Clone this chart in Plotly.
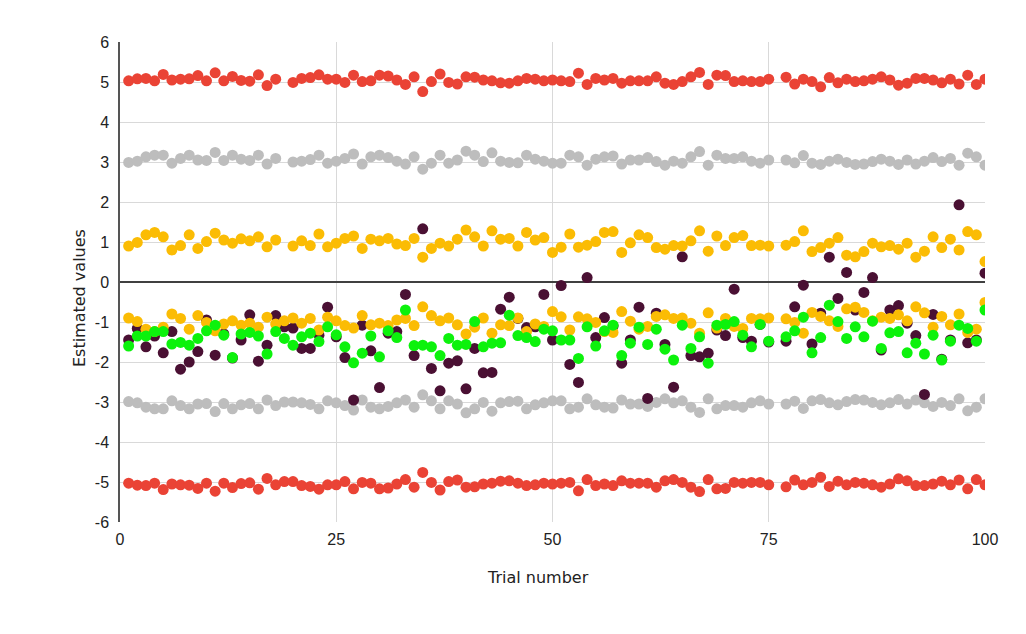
import plotly.graph_objects as go

trials = list(range(1, 101))

red_top = [5.03, 5.08, 5.09, 5.03, 5.19, 5.05, 5.07, 5.08, 5.16, 5.03,
           5.23, 5.03, 5.14, 5.04, 5.02, 5.18, 4.91, 5.07, None, 4.99,
           5.09, 5.11, 5.18, 5.07, 5.07, 4.99, 5.17, 5.01, 5.03, 5.17,
           5.15, 5.05, 4.94, 5.13, 4.76, 5.01, 5.20, 4.99, 4.95, 5.13,
           5.12, 5.05, 5.03, 4.98, 4.97, 5.03, 5.09, 5.07, 5.03, 5.05,
           5.03, 5.01, 5.22, 4.94, 5.09, 5.05, 5.09, 4.97, 5.03, 5.03,
           5.03, 5.13, 4.97, 4.94, 5.01, 5.13, 5.24, 4.94, 5.17, 5.16,
           5.01, 5.03, 5.01, 5.01, 5.07, None, 5.12, 4.95, 5.07, 5.01,
           4.88, 5.11, 4.98, 5.07, 5.01, 5.03, 5.07, 5.13, 5.05, 4.92,
           4.97, 5.09, 5.09, 5.05, 4.98, 5.07, 4.95, 5.17, 4.94, 5.07]

red_bottom = [-5.03, -5.08, -5.09, -5.03, -5.19, -5.05, -5.07, -5.08, -5.16, -5.03,
              -5.23, -5.03, -5.14, -5.04, -5.02, -5.18, -4.91, -5.07, -4.99, -4.99,
              -5.09, -5.11, -5.18, -5.07, -5.07, -4.99, -5.17, -5.01, -5.03, -5.17,
              -5.15, -5.05, -4.94, -5.13, -4.76, -5.01, -5.20, -4.99, -4.95, -5.13,
              -5.12, -5.05, -5.03, -4.98, -4.97, -5.03, -5.09, -5.07, -5.03, -5.05,
              -5.03, -5.01, -5.22, -4.94, -5.09, -5.05, -5.09, -4.97, -5.03, -5.03,
              -5.03, -5.13, -4.97, -4.94, -5.01, -5.13, -5.24, -4.94, -5.17, -5.16,
              -5.01, -5.03, -5.01, -5.01, -5.07, None, -5.12, -4.95, -5.07, -5.01,
              -4.88, -5.11, -4.98, -5.07, -5.01, -5.03, -5.07, -5.13, -5.05, -4.92,
              -4.97, -5.09, -5.09, -5.05, -4.98, -5.07, -4.95, -5.17, -4.94, -5.07]

gray_top = [2.99, 3.02, 3.13, 3.17, 3.17, 2.97, 3.09, 3.17, 3.05, 3.04,
            3.24, 3.04, 3.17, 3.07, 3.04, 3.17, 2.95, 3.09, None, 3.00,
            3.02, 3.06, 3.17, 2.97, 3.02, 3.09, 3.20, 2.95, 3.13, 3.17,
            3.11, 3.02, 2.95, 3.13, 2.82, 2.97, 3.17, 2.97, 3.05, 3.27,
            3.17, 3.01, 3.23, 3.02, 2.99, 2.98, 3.17, 3.07, 3.02, 2.97,
            2.97, 3.17, 3.13, 2.92, 3.07, 3.13, 3.15, 2.95, 3.05, 3.05,
            3.11, 3.01, 2.92, 3.02, 2.97, 3.13, 3.26, 2.92, 3.17, 3.09,
            3.09, 3.13, 3.02, 2.97, 3.05, None, 3.05, 2.98, 3.16, 2.97,
            2.94, 3.02, 3.07, 2.99, 2.94, 2.95, 3.01, 3.07, 3.02, 2.94,
            3.05, 2.95, 3.02, 3.11, 3.01, 3.09, 2.92, 3.22, 3.13, 2.92]

gray_bottom = [-2.99, -3.02, -3.13, -3.17, -3.17, -2.97, -3.09, -3.17, -3.05, -3.04,
               -3.24, -3.04, -3.17, -3.07, -3.04, -3.17, -2.95, -3.09, -3.00, -3.00,
               -3.02, -3.06, -3.17, -2.97, -3.02, -3.09, -3.20, -2.95, -3.13, -3.17,
               -3.11, -3.02, -2.95, -3.13, -2.82, -2.97, -3.17, -2.97, -3.05, -3.27,
               -3.17, -3.01, -3.23, -3.02, -2.99, -2.98, -3.17, -3.07, -3.02, -2.97,
               -2.97, -3.17, -3.13, -2.92, -3.07, -3.13, -3.15, -2.95, -3.05, -3.05,
               -3.11, -3.01, -2.92, -3.02, -2.97, -3.13, -3.26, -2.92, -3.17, -3.09,
               -3.09, -3.13, -3.02, -2.97, -3.05, None, -3.05, -2.98, -3.16, -2.97,
               -2.94, -3.02, -3.07, -2.99, -2.94, -2.95, -3.01, -3.07, -3.02, -2.94,
               -3.05, -2.95, -3.02, -3.11, -3.01, -3.09, -2.92, -3.22, -3.13, -2.92]

orange_top = [0.90, 0.99, 1.18, 1.24, 1.13, 0.80, 0.91, 1.18, 0.84, 1.01,
              1.22, 1.05, 0.97, 1.08, 1.03, 1.13, 0.88, 1.05, None, 0.90,
              1.03, 0.91, 1.20, 0.88, 0.97, 1.09, 1.15, 0.84, 1.07, 1.03,
              1.09, 0.95, 0.91, 1.09, 0.62, 0.84, 0.97, 0.90, 1.07, 1.30,
              1.13, 0.90, 1.28, 1.07, 1.09, 0.90, 1.24, 1.05, 1.11, 0.74,
              0.87, 1.20, 0.87, 0.92, 1.01, 1.24, 1.26, 0.74, 0.98, 1.18,
              1.11, 0.86, 0.82, 0.91, 0.90, 1.03, 1.28, 0.77, 1.15, 0.91,
              1.11, 1.16, 0.91, 0.92, 0.90, None, 0.92, 1.01, 1.28, 0.76,
              0.86, 0.97, 1.11, 0.67, 0.63, 0.76, 0.97, 0.88, 0.91, 0.82,
              0.97, 0.62, 0.77, 1.13, 0.86, 1.07, 0.80, 1.26, 1.18, 0.51]

orange_bottom = [-0.90, -0.99, -1.18, -1.24, -1.13, -0.80, -0.91, -1.18, -0.84, -1.01,
                 -1.22, -1.05, -0.97, -1.08, -1.03, -1.13, -0.88, -1.05, -0.97, -0.90,
                 -1.03, -0.91, -1.20, -0.88, -0.97, -1.09, -1.15, -0.84, -1.07, -1.03,
                 -1.09, -0.95, -0.91, -1.09, -0.62, -0.84, -0.97, -0.90, -1.07, -1.30,
                 -1.13, -0.90, -1.28, -1.07, -1.09, -0.90, -1.24, -1.05, -1.11, -0.74,
                 -0.87, -1.20, -0.87, -0.92, -1.01, -1.24, -1.26, -0.74, -0.98, -1.18,
                 -1.11, -0.86, -0.82, -0.91, -0.90, -1.03, -1.28, -0.77, -1.15, -0.91,
                 -1.11, -1.16, -0.91, -0.92, -0.90, None, -0.92, -1.01, -1.28, -0.76,
                 -0.86, -0.97, -1.11, -0.67, -0.63, -0.76, -0.97, -0.88, -0.91, -0.82,
                 -0.97, -0.62, -0.77, -1.13, -0.86, -1.07, -0.80, -1.26, -1.18, -0.51]

purple = [-1.45, -1.16, -1.62, -1.35, -1.77, -1.24, -2.18, -2.00, -1.74, -0.95,
          -1.83, -1.30, -1.90, -1.45, -0.82, -1.98, -1.58, -0.84, -1.12, -1.15,
          -1.66, -1.66, -1.33, -0.63, -1.37, -1.89, -2.95, -1.08, -1.72, -2.64,
          -1.28, -1.24, -0.31, -1.84, 1.33, -2.16, -2.72, -2.03, -1.97, -2.67,
          -1.66, -2.27, -2.26, -0.68, -0.38, -0.91, -1.14, -1.12, -0.31, -1.45,
          -0.09, -2.06, -2.51, 0.11, -1.39, -0.89, -1.10, -2.03, -1.45, -0.63,
          -2.91, -0.78, -1.56, -2.63, 0.63, -1.84, -1.87, -1.78, -1.20, -1.34,
          -0.18, -1.39, -1.48, -1.06, -1.50, None, -1.48, -0.62, -0.08, -1.55,
          -0.78, 0.62, -0.41, 0.24, -0.70, -0.26, 0.11, -1.70, -0.70, -0.59,
          -1.03, -1.34, -2.81, -0.81, -1.93, -1.45, 1.93, -1.52, -1.45, 0.22]

green = [-1.60, -1.35, -1.35, -1.24, -1.24, -1.55, -1.51, -1.58, -1.41, -1.22,
         -1.08, -1.33, -1.89, -1.30, -1.26, -1.35, -1.80, -1.24, -1.41, -1.58,
         -1.37, -1.28, -1.49, -1.12, -1.32, -1.62, -2.02, -1.78, -1.35, -1.87,
         -1.22, -1.39, -0.70, -1.59, -1.58, -1.62, -1.84, -1.41, -1.58, -1.56,
         -0.99, -1.62, -1.53, -1.52, -0.83, -1.34, -1.39, -1.49, -1.18, -1.22,
         -1.45, -1.45, -1.91, -1.12, -1.60, -1.22, -1.08, -1.84, -1.53, -1.13,
         -1.56, -1.18, -1.68, -1.95, -1.08, -1.66, -1.37, -2.03, -1.08, -1.06,
         -0.99, -1.33, -1.62, -1.06, -1.48, None, -1.37, -1.22, -0.88, -1.77,
         -1.39, -0.58, -0.99, -1.41, -1.12, -1.37, -0.98, -1.66, -1.27, -1.24,
         -1.77, -1.53, -1.80, -1.33, -1.95, -1.48, -1.08, -1.16, -1.48, -0.70]

x_ticks = [0, 25, 50, 75, 100]
y_ticks = [-6, -5, -4, -3, -2, -1, 0, 1, 2, 3, 4, 5, 6]

RED = "#EA4335"
GRAY = "#BDBDBD"
ORANGE = "#FBBC04"
PURPLE = "#4A1033"
GREEN = "#0CF20C"

series = [
    (red_top, RED), (red_bottom, RED),
    (gray_top, GRAY), (gray_bottom, GRAY),
    (purple, PURPLE),
    (orange_top, ORANGE), (orange_bottom, ORANGE),
    (green, GREEN),
]

fig = go.Figure()
for vals, col in series:
    fig.add_trace(go.Scatter(
        x=trials, y=vals, mode="markers",
        marker=dict(color=col, size=11, line=dict(width=0)),
        showlegend=False, hoverinfo="x+y",
    ))

title_font = dict(family="DejaVu Sans, Verdana, sans-serif", size=16, color="#222222")

fig.update_layout(
    width=1026, height=634,
    margin=dict(l=112, r=49, t=34, b=120),
    plot_bgcolor="white", paper_bgcolor="white",
    font=dict(family="Liberation Sans, Arial, sans-serif", size=16, color="#222222"),
    xaxis=dict(
        range=[0, 100], tickvals=x_ticks, ticktext=[str(v) for v in x_ticks],
        showgrid=True, gridcolor="#D9D9D9", gridwidth=1,
        zeroline=False, showline=False, ticks="", ticklabelstandoff=6,
    ),
    yaxis=dict(
        range=[-6, 6], tickvals=y_ticks, ticktext=[str(v) for v in y_ticks],
        showgrid=True, gridcolor="#D9D9D9", gridwidth=1,
        zeroline=True, zerolinecolor="#404040", zerolinewidth=1.5,
        showline=True, linecolor="#555555", linewidth=1.5,
        ticks="", ticklabelstandoff=6,
    ),
    annotations=[
        dict(text="Estimated values", xref="paper", yref="paper",
             x=-0.046, y=0.467, xanchor="center", yanchor="middle",
             textangle=-90, showarrow=False, font=title_font),
        dict(text="Trial number", xref="paper", yref="paper",
             x=0.483, y=-0.115, xanchor="center", yanchor="middle",
             showarrow=False, font=title_font),
    ],
)

fig.write_html("out.html")
